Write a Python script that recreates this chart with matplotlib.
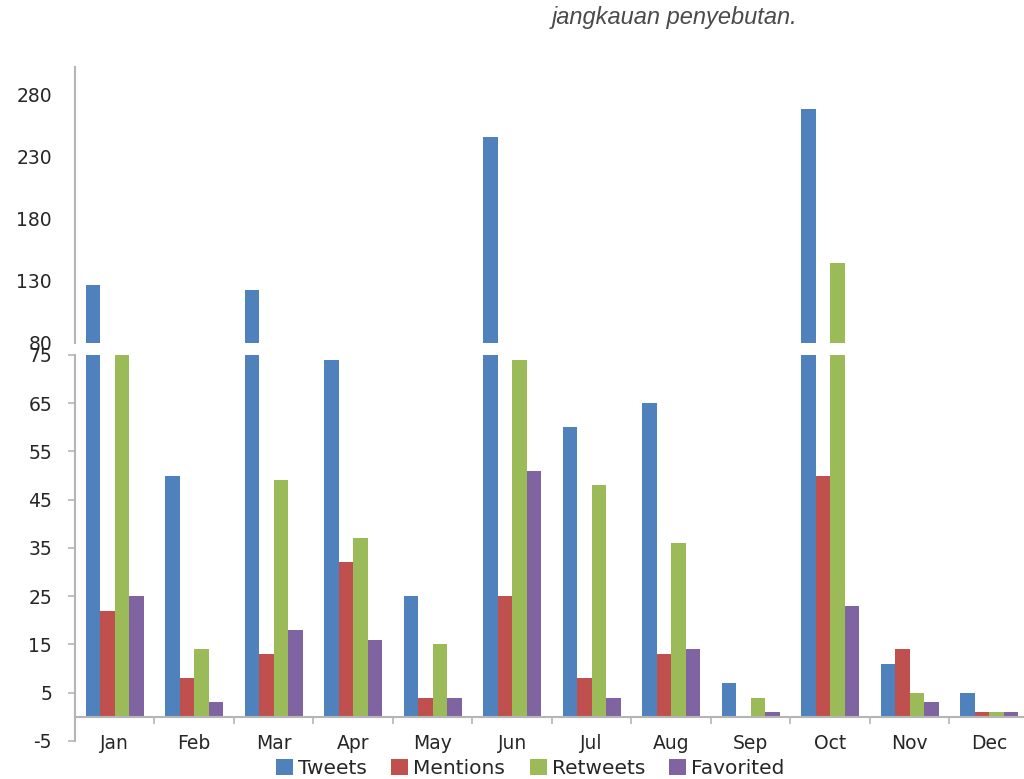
import numpy as np
import matplotlib.pyplot as plt
from matplotlib.patches import Patch

plt.rcParams["axes.unicode_minus"] = False

months = ["Jan", "Feb", "Mar", "Apr", "May", "Jun", "Jul", "Aug", "Sep", "Oct", "Nov", "Dec"]
tweets = [127, 50, 123, 74, 25, 246, 60, 65, 7, 268, 11, 5]
mentions = [22, 8, 13, 32, 4, 25, 8, 13, 0, 50, 14, 1]
retweets = [77, 14, 49, 37, 15, 74, 48, 36, 4, 144, 5, 1]
favorited = [25, 3, 18, 16, 4, 51, 4, 14, 1, 23, 3, 1]

series = ["Tweets", "Mentions", "Retweets", "Favorited"]
colors = ["#4f81bd", "#c0504d", "#9bbb59", "#8064a2"]

low_ticks = list(range(-5, 76, 10))
high_ticks = [80, 130, 180, 230, 280]

txt = "#262626"
axcol = "#b5b5b5"
fs = 13.5

fig = plt.figure(figsize=(10.24, 7.79), dpi=100)
ax_hi = fig.add_axes([0.0732, 0.5597, 0.9316, 0.3543])
ax_lo = fig.add_axes([0.0732, 0.0488, 0.9316, 0.4955])

x = np.arange(len(months))
w = 0.183
for ax in (ax_hi, ax_lo):
    for i, vals in enumerate([tweets, mentions, retweets, favorited]):
        ax.bar(x + (i - 1.5) * w, vals, w, color=colors[i], linewidth=0)
    ax.set_xlim(-0.5, 11.5)
    for s in ["top", "right"]:
        ax.spines[s].set_visible(False)
    ax.spines["left"].set_color(axcol)
    ax.spines["left"].set_linewidth(1.5)

# upper part of the broken axis
ax_hi.set_ylim(80, 302)
ax_hi.set_yticks(high_ticks)
ax_hi.spines["bottom"].set_visible(False)
ax_hi.set_xticks([])
ax_hi.tick_params(axis="y", length=0, pad=16.5, labelsize=fs, labelcolor=txt)

# lower part
ax_lo.set_ylim(-5, 75)
ax_lo.set_yticks(low_ticks)
ax_lo.tick_params(axis="y", length=5, width=1.2, color=axcol, pad=11.5, labelsize=fs, labelcolor=txt)
ax_lo.spines["bottom"].set_position(("data", 0))
ax_lo.spines["bottom"].set_color(axcol)
ax_lo.spines["bottom"].set_linewidth(1.5)
ax_lo.set_xticks(x)
ax_lo.set_xticklabels(months)
ax_lo.set_xticks(np.arange(0.5, 11.5, 1), minor=True)
ax_lo.tick_params(axis="x", which="major", length=0, pad=12, labelsize=fs, labelcolor=txt)
ax_lo.tick_params(axis="x", which="minor", length=5, width=1.2, color=axcol)

handles = [Patch(facecolor=c, edgecolor="none") for c in colors]
fig.legend(handles, series, loc="center", bbox_to_anchor=(0.518, 0.014), ncol=4,
           frameon=False, fontsize=14.5, handlelength=0.85, handleheight=0.85,
           handletextpad=0.25, columnspacing=1.2, labelcolor=txt)

fig.text(0.539, 0.977, "jangkauan penyebutan.", fontsize=17, style="italic",
         family="Liberation Sans", color="#4a4a4a", va="center", ha="left")

fig.savefig("out.png", dpi=100, facecolor="white")
